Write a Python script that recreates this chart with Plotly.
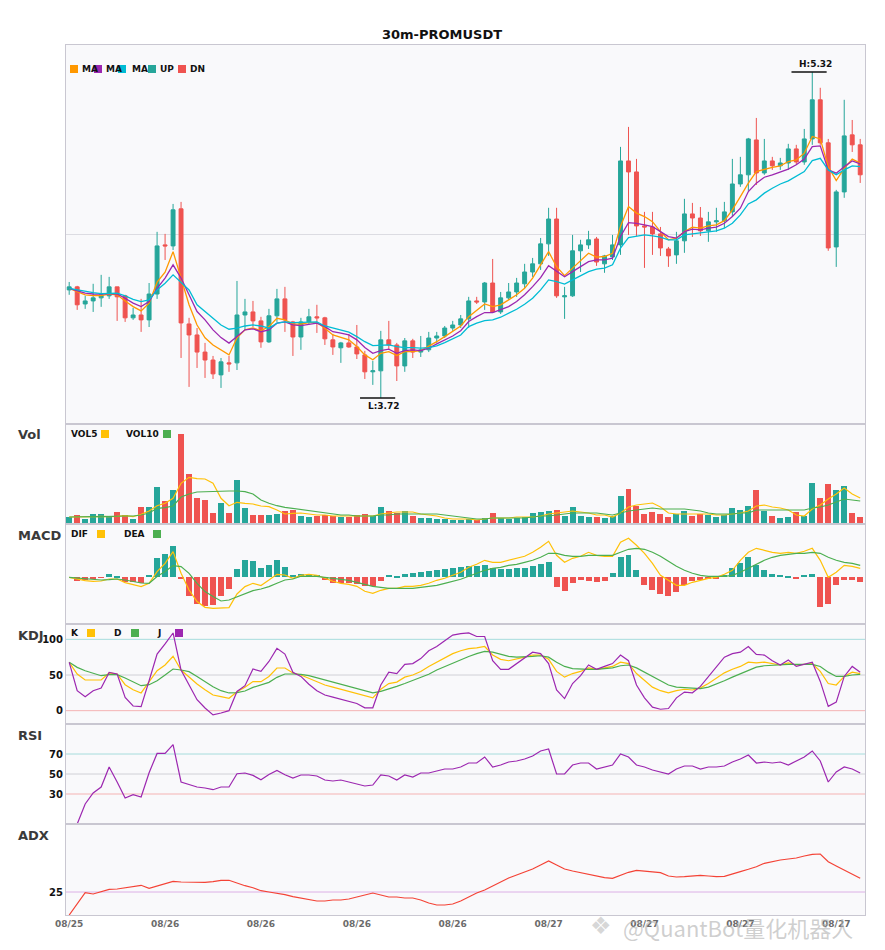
import plotly.graph_objects as go
from plotly.subplots import make_subplots

# 30m candles, index 0..99, and the date labels on the time axis
candle_idx = list(range(100))
tick_idx = [0, 12, 24, 36, 48, 60, 72, 84, 96]
tick_labels = ["08/25", "08/26", "08/26", "08/26", "08/26", "08/27", "08/27", "08/27", "08/27"]

opens = [4.250, 4.265, 4.181, 4.196, 4.211, 4.221, 4.265, 4.221, 4.113, 4.127,
         4.103, 4.230, 4.471, 4.466, 4.648, 4.083, 4.029, 3.945, 3.906, 3.833,
         3.892, 3.892, 4.127, 4.142, 4.098, 3.995, 4.123, 4.206, 4.093, 4.019,
         4.093, 4.118, 4.113, 4.005, 3.966, 3.990, 3.970, 3.931, 3.848, 3.853,
         4.005, 3.980, 3.877, 4.000, 3.945, 3.956, 4.014, 4.024, 4.063, 4.078,
         4.108, 4.196, 4.191, 4.284, 4.142, 4.211, 4.240, 4.280, 4.338, 4.378,
         4.476, 4.598, 4.216, 4.221, 4.442, 4.471, 4.500, 4.378, 4.412, 4.471,
         4.883, 4.829, 4.564, 4.559, 4.525, 4.451, 4.422, 4.491, 4.623, 4.603,
         4.540, 4.584, 4.589, 4.633, 4.770, 4.815, 4.986, 4.824, 4.883, 4.859,
         4.873, 4.942, 4.878, 4.991, 5.183, 4.972, 4.461, 4.731, 5.011, 4.962]
highs = [4.289, 4.270, 4.221, 4.280, 4.324, 4.314, 4.265, 4.226, 4.162, 4.206,
         4.284, 4.535, 4.525, 4.672, 4.682, 4.113, 4.063, 3.990, 3.926, 3.916,
         3.926, 4.294, 4.206, 4.196, 4.118, 4.157, 4.255, 4.265, 4.098, 4.113,
         4.157, 4.177, 4.118, 4.034, 3.995, 4.034, 4.078, 3.951, 3.902, 4.049,
         4.098, 3.990, 4.014, 4.010, 4.024, 4.044, 4.044, 4.073, 4.098, 4.127,
         4.216, 4.216, 4.289, 4.402, 4.240, 4.284, 4.309, 4.378, 4.407, 4.505,
         4.653, 4.653, 4.265, 4.520, 4.496, 4.540, 4.510, 4.422, 4.520, 4.952,
         5.050, 4.893, 4.633, 4.633, 4.559, 4.461, 4.535, 4.697, 4.677, 4.657,
         4.633, 4.653, 4.682, 4.893, 4.903, 4.996, 5.094, 4.991, 4.903, 4.898,
         4.967, 4.962, 5.040, 5.320, 5.242, 4.991, 4.741, 5.183, 5.084, 4.991]
lows = [4.226, 4.152, 4.157, 4.142, 4.167, 4.206, 4.098, 4.093, 4.103, 4.044,
        4.068, 4.206, 4.397, 4.446, 3.916, 3.774, 3.867, 3.818, 3.813, 3.769,
        3.848, 3.857, 4.054, 4.068, 3.966, 3.990, 4.093, 4.044, 3.926, 3.956,
        4.083, 4.039, 3.980, 3.931, 3.892, 3.966, 3.911, 3.813, 3.784, 3.720,
        3.956, 3.803, 3.848, 3.916, 3.921, 3.945, 3.990, 4.014, 4.049, 4.063,
        4.063, 4.181, 4.152, 4.137, 4.132, 4.201, 4.216, 4.260, 4.314, 4.348,
        4.417, 4.211, 4.108, 4.216, 4.338, 4.451, 4.368, 4.334, 4.397, 4.422,
        4.520, 4.515, 4.358, 4.422, 4.417, 4.363, 4.378, 4.432, 4.510, 4.515,
        4.486, 4.535, 4.554, 4.608, 4.756, 4.736, 4.765, 4.815, 4.839, 4.839,
        4.839, 4.864, 4.864, 4.962, 4.962, 4.442, 4.363, 4.702, 4.927, 4.775]
closes = [4.265, 4.177, 4.196, 4.211, 4.226, 4.265, 4.216, 4.113, 4.127, 4.103,
          4.230, 4.466, 4.466, 4.643, 4.088, 4.029, 3.945, 3.906, 3.838, 3.897,
          3.887, 4.127, 4.142, 4.098, 3.995, 4.123, 4.206, 4.103, 4.019, 4.093,
          4.118, 4.113, 4.010, 3.970, 3.990, 3.970, 3.936, 3.848, 3.853, 4.005,
          3.980, 3.877, 4.000, 3.945, 3.956, 4.014, 4.024, 4.063, 4.078, 4.108,
          4.196, 4.191, 4.284, 4.142, 4.211, 4.240, 4.284, 4.338, 4.378, 4.476,
          4.598, 4.221, 4.221, 4.442, 4.471, 4.496, 4.387, 4.417, 4.471, 4.883,
          4.829, 4.564, 4.559, 4.525, 4.456, 4.417, 4.491, 4.623, 4.603, 4.540,
          4.584, 4.589, 4.633, 4.770, 4.815, 4.991, 4.824, 4.883, 4.859, 4.873,
          4.942, 4.878, 4.991, 5.183, 4.972, 4.456, 4.731, 5.006, 4.962, 4.815]

# moving averages (fast / mid / slow)
ma_fast = [4.258, 4.242, 4.226, 4.222, 4.222, 4.230, 4.226, 4.196, 4.168, 4.147,
           4.185, 4.288, 4.337, 4.438, 4.308, 4.177, 4.078, 4.015, 3.980, 3.956,
           3.931, 4.015, 4.054, 4.064, 4.049, 4.070, 4.111, 4.103, 4.082, 4.082,
           4.090, 4.090, 4.062, 4.029, 4.016, 4.005, 3.972, 3.931, 3.907, 3.939,
           3.947, 3.928, 3.947, 3.947, 3.952, 3.972, 3.996, 4.021, 4.045, 4.073,
           4.119, 4.152, 4.181, 4.168, 4.177, 4.201, 4.226, 4.258, 4.308, 4.373,
           4.438, 4.364, 4.320, 4.357, 4.392, 4.430, 4.411, 4.414, 4.430, 4.561,
           4.659, 4.627, 4.610, 4.585, 4.536, 4.496, 4.504, 4.536, 4.558, 4.553,
           4.564, 4.569, 4.590, 4.643, 4.708, 4.774, 4.831, 4.843, 4.852, 4.859,
           4.880, 4.888, 4.921, 5.003, 4.991, 4.855, 4.787, 4.847, 4.892, 4.872]
ma_mid = [4.258, 4.245, 4.234, 4.230, 4.229, 4.232, 4.230, 4.209, 4.185, 4.168,
          4.193, 4.258, 4.308, 4.373, 4.308, 4.226, 4.144, 4.103, 4.054, 4.016,
          3.989, 4.021, 4.054, 4.059, 4.045, 4.054, 4.087, 4.093, 4.078, 4.075,
          4.082, 4.087, 4.070, 4.045, 4.038, 4.029, 4.005, 3.967, 3.939, 3.952,
          3.959, 3.939, 3.952, 3.956, 3.952, 3.964, 3.985, 4.005, 4.024, 4.050,
          4.095, 4.119, 4.139, 4.139, 4.152, 4.168, 4.193, 4.226, 4.266, 4.310,
          4.369, 4.340, 4.315, 4.340, 4.364, 4.389, 4.397, 4.397, 4.406, 4.512,
          4.580, 4.577, 4.569, 4.561, 4.536, 4.512, 4.504, 4.536, 4.548, 4.545,
          4.553, 4.558, 4.577, 4.610, 4.651, 4.733, 4.774, 4.803, 4.815, 4.831,
          4.843, 4.864, 4.892, 4.953, 4.957, 4.839, 4.823, 4.855, 4.883, 4.869]
ma_slow = [4.258, 4.250, 4.242, 4.237, 4.232, 4.234, 4.234, 4.221, 4.204, 4.193,
           4.201, 4.250, 4.283, 4.324, 4.288, 4.250, 4.177, 4.144, 4.113, 4.078,
           4.057, 4.062, 4.073, 4.078, 4.073, 4.062, 4.087, 4.093, 4.090, 4.090,
           4.093, 4.093, 4.073, 4.062, 4.054, 4.043, 4.021, 3.996, 3.977, 3.980,
           3.980, 3.972, 3.967, 3.967, 3.964, 3.967, 3.975, 3.991, 4.008, 4.029,
           4.070, 4.087, 4.099, 4.103, 4.116, 4.136, 4.155, 4.180, 4.209, 4.250,
           4.299, 4.291, 4.279, 4.299, 4.319, 4.340, 4.352, 4.357, 4.373, 4.455,
           4.507, 4.512, 4.520, 4.515, 4.509, 4.496, 4.496, 4.520, 4.525, 4.528,
           4.533, 4.540, 4.553, 4.577, 4.618, 4.672, 4.692, 4.725, 4.749, 4.770,
           4.785, 4.806, 4.831, 4.885, 4.896, 4.839, 4.815, 4.839, 4.859, 4.855]

# volume (relative units) with its two averages
volume = [7, 9, 5, 10, 10, 8, 12, 9, 5, 17,
          17, 37, 23, 34, 90, 50, 26, 24, 11, 21,
          11, 44, 16, 9, 9, 9, 10, 13, 14, 8,
          7, 8, 9, 8, 7, 7, 9, 10, 8, 17,
          13, 11, 13, 8, 6, 6, 5, 5, 4, 4,
          5, 4, 6, 11, 6, 5, 6, 7, 11, 12,
          13, 14, 8, 17, 8, 7, 7, 6, 8, 28,
          35, 18, 10, 12, 10, 7, 10, 13, 8, 10,
          9, 7, 9, 16, 14, 18, 34, 13, 8, 6,
          7, 12, 8, 41, 26, 40, 34, 38, 11, 7]
vol5 = [7, 7, 6.7, 7.3, 7.7, 7.3, 7.7, 8.3, 7.3, 9.7,
        13, 18.3, 20.7, 25.7, 40.7, 46.7, 45.3, 45, 40.7, 25.7,
        18.3, 21.7, 20.7, 20, 18, 17.3, 14, 10, 10.7, 11,
        10, 9, 9, 8, 8, 8, 8, 8, 8, 10,
        11, 12, 12, 12, 10, 9, 8, 6, 5, 5,
        5, 4, 5, 6, 6, 6, 7, 7, 7, 8,
        10, 11, 12, 13, 12, 11, 9, 9, 7, 11,
        17, 19, 20, 21, 17, 11, 10, 10, 10, 10,
        10, 9, 9, 10, 11, 13, 18, 19, 17, 16,
        14, 9, 8, 15, 19, 25, 30, 36, 30, 26]
vol10 = [7, 7.3, 7, 7.3, 7.3, 7.7, 8, 8, 8, 9,
         11, 15.7, 16.3, 18, 27, 30, 32, 32.3, 33, 33,
         33, 33, 32.3, 30, 24, 20.7, 18.3, 16.7, 15.7, 14,
         13, 12, 11, 10, 9, 9, 8, 8, 8, 9,
         9, 10, 10, 10, 10, 10, 10, 9, 8, 7,
         6, 5, 5, 6, 6, 6, 6, 6, 7, 8,
         8, 9, 10, 11, 11, 11, 11, 10, 9, 11,
         13, 14, 15, 16, 15, 15, 15, 15, 14, 13,
         11, 10, 10, 10, 11, 11, 14, 14, 14, 14,
         14, 14, 14, 16, 17, 19, 22, 25, 24, 23]

# MACD values in thousandths
dif = [0, -2, -3.3, -4, -3.7, -1.7, -1.7, -5.3, -7, -9.3,
       -6, 5.7, 14, 25.7, 4, -12.7, -24.3, -30, -31, -31,
       -30.3, -16.7, -9.3, -6, -8.3, -2.7, 3, 2.3, -1, 2,
       3, 2, -1, -4, -6, -7, -9, -14, -16, -13,
       -11, -11, -9, -9, -8, -6, -3, -1, 2, 5,
       10, 13, 17, 15, 15, 17, 19, 21, 25, 30,
       36, 22, 15, 19, 21, 25, 22, 21, 21, 35,
       39, 32, 24, 14, 2, -3, -8, -8, -5, -3,
       -1, 0, 3, 7, 17, 25, 29, 27, 25, 24,
       25, 24, 26, 29, 17, 0, 5, 12, 11, 9]
dea = [0, -0.7, -1.7, -2.3, -2.7, -2.3, -1.7, -2.7, -4, -5.7,
       -6, 0.7, 5.7, 11.7, 10.7, 4, -6, -14.3, -19.3, -23.7,
       -22.7, -19.3, -16, -13.3, -11.7, -9.3, -6, -2.7, -1.7, 1,
       1, 1, 0, -1, -2, -3, -5, -7, -9, -10,
       -11, -11, -11, -11, -10, -9, -8, -6, -4, -2,
       1, 4, 7, 9, 10, 12, 13, 15, 17, 20,
       24, 24, 22, 21, 21, 22, 22, 22, 22, 25,
       28, 29, 28, 25, 21, 16, 11, 7, 4, 2,
       1, 1, 1, 2, 5, 9, 13, 17, 20, 22,
       23, 24, 24, 25, 24, 20, 17, 15, 14, 12]
macd_hist = [0, -3.7, -2.7, -1.7, -0.7, 3.3, 1.3, -5, -5, -5.7,
             2.3, 19.7, 23.3, 31.3, -1.7, -18.3, -27, -28.3, -27.7, -18.3,
             -11.3, 8.3, 17.3, 16.3, 9.7, 12.3, 17.3, 10.7, 2.3, 3,
             2, 2, -3, -6, -6, -6, -7, -9, -9, -4,
             2, 1, 3, 4, 5, 6, 7, 8, 9, 10,
             11, 11, 12, 9, 8, 8, 9, 9, 11, 13,
             15, -10, -14, -6, -3, -4, -5, -4, 4, 20,
             22, 7, -8, -13, -17, -19, -15, -8, -4, -3,
             -2, -1, 2, 9, 14, 20, 12, 7, 3, 2,
             1, -1, 2, 3, -30, -27, -8, -3, -3, -5]

kdj_k = [67.8, 51.4, 43, 43, 43, 52.8, 51.4, 36.4, 29.4, 24.8,
         39.7, 56, 64, 76.2, 57, 46.7, 37.4, 29.4, 22, 19.6,
         17.3, 26.6, 32.7, 40.7, 40.7, 48, 59.8, 59.8, 52.8, 50,
         45, 40, 36, 33, 30, 27, 24, 20, 18, 30,
         38, 40, 47, 50, 55, 62, 68, 74, 80, 84,
         87, 88, 90, 78, 72, 70, 72, 75, 78, 78,
         72, 55, 47, 52, 55, 60, 58, 60, 62, 68,
         66, 52, 42, 33, 28, 25, 28, 30, 29, 32,
         38, 45, 53, 58, 62, 68, 67, 68, 66, 64,
         67, 64, 65, 66, 55, 38, 36, 48, 54, 52]
kdj_d = [67.8, 60.7, 56, 52.3, 49, 50.5, 50.5, 45.8, 40.7, 35,
         36.4, 42, 50, 58.4, 57, 54.7, 48, 41, 33.6, 28,
         24.8, 25.2, 27.6, 32.7, 36.4, 39.7, 46.7, 51.4, 51.4, 51,
         49, 46, 43, 40, 37, 34, 31, 28, 25, 27,
         30, 34, 38, 42, 46, 51, 57, 62, 67, 72,
         76, 80, 83, 82, 79, 76, 75, 75, 76, 77,
         75, 68, 62, 59, 58, 58, 58, 59, 60, 63,
         64, 60, 54, 47, 41, 36, 33, 32, 31, 31,
         33, 37, 42, 47, 52, 57, 61, 63, 64, 64,
         65, 65, 65, 65, 62, 54, 48, 48, 50, 51]
kdj_j = [67.8, 28, 19.6, 28, 31.8, 53.7, 51.4, 18.7, 6.5, 5.6,
         42, 79.4, 93.5, 108.9, 57, 36, 15.4, 3.7, -6, -3.3,
         0, 27, 35, 58.4, 55, 69, 87.4, 79.4, 53.7, 48,
         37, 28, 22, 19, 16, 13, 10, 4, 4, 36,
         54, 52, 65, 66, 73, 84, 90, 98, 106, 108,
         109, 104, 104, 70, 58, 58, 66, 75, 82, 80,
         66, 29, 17, 38, 49, 64, 58, 62, 66, 78,
         70, 36, 18, 5, 2, 3, 18, 26, 25, 34,
         48, 61, 75, 80, 82, 90, 79, 78, 70, 64,
         71, 62, 65, 68, 41, 6, 12, 48, 62, 54]

rsi = [0, 0, 20, 31, 37, 57, 42, 26, 29.3, 27,
       51.3, 70.6, 70.6, 79.3, 42, 39.6, 37, 36, 34.3, 37,
       37, 50.3, 51, 48.6, 44.3, 49.6, 53.6, 49.3, 46, 49,
       49, 48, 44, 43, 44, 42, 40, 38, 39, 49,
       48, 44, 49, 47, 51, 51, 53, 55, 55, 57,
       61, 61, 67, 57, 59, 62, 63, 65, 68, 73,
       75, 50, 50, 59, 61, 61, 55, 57, 59, 70,
       67, 59, 57, 54, 52, 50, 55, 58, 58, 55,
       57, 57, 58, 62, 65, 69, 61, 62, 61, 62,
       59, 63, 67, 73, 63, 42, 52, 57, 55, 51]

adx = [13.5, 19.35, 24.65, 24, 25.35, 26.35, 26.5, 27, 27.65, 28.35,
       26.85, 28, 29, 30.35, 30, 29.85, 29.85, 29.85, 30.15, 30.85,
       30.85, 29.35, 28.15, 27.15, 25.65, 25, 24.5, 23.65, 22.65, 22,
       21.5, 20.5, 20.5, 21, 21, 21.5, 22.5, 23.5, 24.5, 23.5,
       22.5, 22.5, 22, 22, 21, 19.5, 18.5, 18.5, 19, 20.5,
       22.5, 24.5, 26, 28, 30, 32, 33.5, 35, 36.5, 38.5,
       40.5, 38.5, 36.5, 35.5, 34.65, 34, 33.15, 32.15, 31.85, 33.35,
       34.85, 35.85, 35.5, 35, 34.65, 33, 32.5, 32.65, 33, 33.35,
       33, 32.65, 32.85, 34.15, 35.15, 36.35, 37.65, 39.35, 40.35, 41,
       41.5, 42, 43, 43.85, 44, 40.15, 38, 36, 34, 31.85]

UP = "#26a69a"
DN = "#ef5350"
ORANGE = "#ff9800"
PURPLE = "#9c27b0"
CYAN = "#00bcd4"
YELLOW = "#ffc107"
GREEN = "#4caf50"
BORDER = "#c9c7d1"
FONT = "DejaVu Sans"

# the page adds an 8px body margin, so the figure is 8px smaller than the window
PAGE_OFF = 8
W, H = 877, 942
L, R, T, B = 58, 20, 37, 35


def px_x(x):
    # window pixel -> paper coordinate
    return (x - PAGE_OFF - L) / (W - L - R)


def px_y(y):
    return (H - B - (y - PAGE_OFF)) / (H - T - B)


fig = make_subplots(rows=6, cols=1, shared_xaxes=True, vertical_spacing=0,
                    row_heights=[379, 100, 100, 100, 100, 91])

fig.add_trace(go.Candlestick(
    x=candle_idx, open=opens, high=highs, low=lows, close=closes,
    increasing=dict(line=dict(color=UP, width=1), fillcolor=UP),
    decreasing=dict(line=dict(color=DN, width=1), fillcolor=DN),
    whiskerwidth=0, hoverinfo="skip", showlegend=False), row=1, col=1)

for series, color in [(ma_fast, ORANGE), (ma_mid, PURPLE), (ma_slow, CYAN)]:
    fig.add_trace(go.Scatter(x=candle_idx, y=series, mode="lines",
                             line=dict(color=color, width=1.3),
                             hoverinfo="skip", showlegend=False), row=1, col=1)

bar_colors = [UP if c >= o else DN for o, c in zip(opens, closes)]
fig.add_trace(go.Bar(x=candle_idx, y=volume, marker_color=bar_colors,
                     marker_line_width=0, width=0.75,
                     hoverinfo="skip", showlegend=False), row=2, col=1)
fig.add_trace(go.Scatter(x=candle_idx, y=vol5, mode="lines",
                         line=dict(color=YELLOW, width=1.2),
                         hoverinfo="skip", showlegend=False), row=2, col=1)
fig.add_trace(go.Scatter(x=candle_idx, y=vol10, mode="lines",
                         line=dict(color=GREEN, width=1.2),
                         hoverinfo="skip", showlegend=False), row=2, col=1)

hist_colors = [UP if v >= 0 else DN for v in macd_hist]
fig.add_trace(go.Bar(x=candle_idx, y=macd_hist, marker_color=hist_colors,
                     marker_line_width=0, width=0.75,
                     hoverinfo="skip", showlegend=False), row=3, col=1)
fig.add_trace(go.Scatter(x=candle_idx, y=dif, mode="lines",
                         line=dict(color=YELLOW, width=1.2),
                         hoverinfo="skip", showlegend=False), row=3, col=1)
fig.add_trace(go.Scatter(x=candle_idx, y=dea, mode="lines",
                         line=dict(color=GREEN, width=1.2),
                         hoverinfo="skip", showlegend=False), row=3, col=1)

for series, color in [(kdj_k, YELLOW), (kdj_d, GREEN), (kdj_j, PURPLE)]:
    fig.add_trace(go.Scatter(x=candle_idx, y=series, mode="lines",
                             line=dict(color=color, width=1.2),
                             hoverinfo="skip", showlegend=False), row=4, col=1)

fig.add_trace(go.Scatter(x=candle_idx, y=rsi, mode="lines",
                         line=dict(color=PURPLE, width=1.2),
                         hoverinfo="skip", showlegend=False), row=5, col=1)

fig.add_trace(go.Scatter(x=candle_idx, y=adx, mode="lines",
                         line=dict(color="#f44336", width=1.2),
                         hoverinfo="skip", showlegend=False), row=6, col=1)

# reference levels
for y, c in [(100, "#a6dcdc"), (50, "#d0d0d6"), (0, "#f5b3b3")]:
    fig.add_hline(y=y, line=dict(color=c, width=1), layer="below", row=4, col=1)
for y, c in [(70, "#a6dcdc"), (50, "#d0d0d6"), (30, "#f5b3b3")]:
    fig.add_hline(y=y, line=dict(color=c, width=1), layer="below", row=5, col=1)
fig.add_hline(y=25, line=dict(color="#dcb0e6", width=1), layer="below", row=6, col=1)

# highest / lowest markers
hi_i = highs.index(max(highs))
lo_i = lows.index(min(lows))
fig.add_shape(type="line", xref="x", yref="y", x0=hi_i - 2.6, x1=hi_i + 1.8,
              y0=highs[hi_i], y1=highs[hi_i], line=dict(color="#111", width=1.5))
fig.add_annotation(x=hi_i + 0.4, y=highs[hi_i], xref="x", yref="y",
                   text="<b>H:%.2f</b>" % highs[hi_i], showarrow=False,
                   yanchor="bottom", yshift=1, font=dict(family=FONT, size=9, color="#111"))
fig.add_shape(type="line", xref="x", yref="y", x0=lo_i - 2.6, x1=lo_i + 1.8,
              y0=lows[lo_i], y1=lows[lo_i], line=dict(color="#111", width=1.5))
fig.add_annotation(x=lo_i + 0.4, y=lows[lo_i], xref="x", yref="y",
                   text="<b>L:%.2f</b>" % lows[lo_i], showarrow=False,
                   yanchor="top", yshift=-1, font=dict(family=FONT, size=9, color="#111"))


def square(x, y, color):
    fig.add_shape(type="rect", xref="paper", yref="paper",
                  x0=px_x(x), x1=px_x(x + 8), y0=px_y(y + 4), y1=px_y(y - 4),
                  fillcolor=color, line=dict(width=0), layer="above")


def label(x, y, text):
    fig.add_annotation(x=px_x(x), y=px_y(y), xref="paper", yref="paper",
                       text="<b>%s</b>" % text, showarrow=False, xanchor="left",
                       yanchor="middle", font=dict(family=FONT, size=9, color="#111"))


# legend rows drawn as in the source
for x_sq, color, x_txt, text in [(70, ORANGE, 80, "MA"), (94, PURPLE, 104, "MA"),
                                 (118, CYAN, 130, "MA"), (148, UP, 158, "UP"),
                                 (178, DN, 188, "DN")]:
    square(x_sq, 69, color)
    label(x_txt, 69, text)

label(69, 434, "VOL5")
square(101, 434, YELLOW)
label(124, 434, "VOL10")
square(163, 434, GREEN)

label(69, 534, "DIF")
square(97, 534, YELLOW)
label(122, 534, "DEA")
square(153, 534, GREEN)

label(69, 633, "K")
square(87, 633, YELLOW)
label(112, 633, "D")
square(131, 633, GREEN)
label(155, 633, "J")
square(175, 633, PURPLE)

# panel names on the left
for name, y in [("Vol", 434), ("MACD", 535), ("KDJ", 635), ("RSI", 735), ("ADX", 835)]:
    fig.add_annotation(x=px_x(16), y=px_y(y), xref="paper", yref="paper",
                       text="<b>%s</b>" % name, showarrow=False, xanchor="left",
                       yanchor="middle", font=dict(family=FONT, size=13, color="#3a3a3a"))

# watermark of the source image (logo glyph + handle)
fig.add_annotation(x=px_x(588), y=px_y(926), xref="paper", yref="paper",
                   text="❖", showarrow=False, xanchor="left", yanchor="middle",
                   font=dict(family=FONT, size=24, color="rgba(175,175,175,0.5)"))
fig.add_annotation(x=px_x(621), y=px_y(927), xref="paper", yref="paper",
                   text="@QuantBot量化机器人", showarrow=False, xanchor="left",
                   yanchor="middle",
                   font=dict(family="Noto Sans CJK SC", size=22, color="rgba(175,175,175,0.6)"))

axis_style = dict(showline=True, mirror=True, linecolor=BORDER, linewidth=1,
                  zeroline=False, ticks="")
fig.update_xaxes(range=[-0.4, 99.6], showgrid=False, rangeslider_visible=False,
                 tickvals=tick_idx, ticktext=["<b>%s</b>" % t for t in tick_labels],
                 showticklabels=False, **axis_style)
fig.update_xaxes(showticklabels=True, tickfont=dict(family=FONT, size=9, color="#6b6b6b"),
                 row=6, col=1)
fig.update_yaxes(showgrid=False, showticklabels=False, **axis_style)
fig.update_yaxes(range=[3.592, 5.452], tickvals=[4.52], showgrid=True,
                 gridcolor="#dcdce2", row=1, col=1)
fig.update_yaxes(range=[0, 100], row=2, col=1)
fig.update_yaxes(range=[-46.7, 53.3], row=3, col=1)
tick_font = dict(family=FONT, size=10, color="#111")
fig.update_yaxes(range=[-18.7, 121.5], tickvals=[0, 50, 100],
                 ticktext=["<b>0</b>", "<b>50</b>", "<b>100</b>"],
                 showticklabels=True, tickfont=tick_font, row=4, col=1)
fig.update_yaxes(range=[0, 100], tickvals=[30, 50, 70],
                 ticktext=["<b>30</b>", "<b>50</b>", "<b>70</b>"],
                 showticklabels=True, tickfont=tick_font, row=5, col=1)
fig.update_yaxes(range=[13.5, 59], tickvals=[25], ticktext=["<b>25</b>"],
                 showticklabels=True, tickfont=tick_font, row=6, col=1)

fig.update_layout(
    width=W, height=H,
    margin=dict(l=L, r=R, t=T, b=B),
    paper_bgcolor="white",
    plot_bgcolor="#f9f9fb",
    bargap=0,
    hovermode=False,
    showlegend=False,
    title=dict(text="<b>30m-PROMUSDT</b>", x=(442 - PAGE_OFF) / W, xref="container",
               xanchor="center", y=1 - (34 - PAGE_OFF) / H, yanchor="middle",
               font=dict(family=FONT, size=13, color="#111")),
)

fig.write_html("out.html")
